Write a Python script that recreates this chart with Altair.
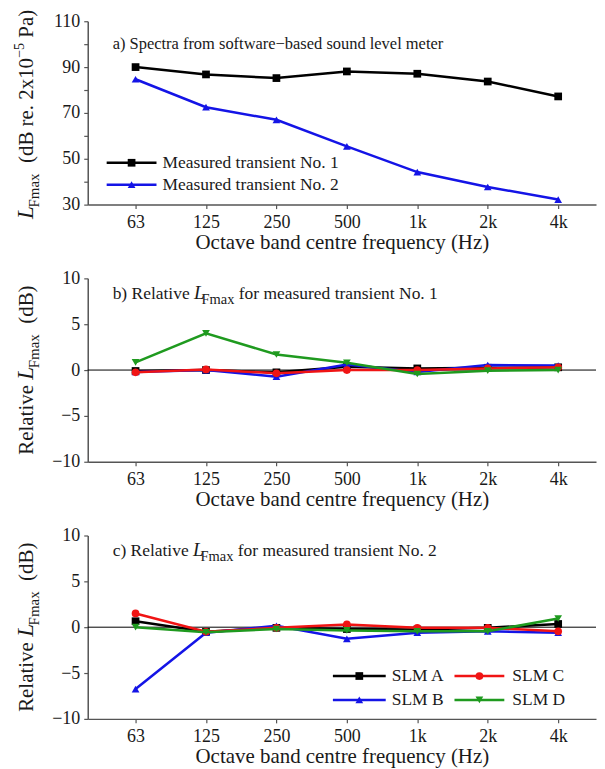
import json
import altair as alt
import pandas as pd

# ---------------- data ----------------
bands = ["63", "125", "250", "500", "1k", "2k", "4k"]

# panel a: L_Fmax spectra (dB)
transient1 = [90.0, 86.8, 85.2, 88.1, 87.1, 83.7, 77.2]
transient2 = [84.7, 72.5, 67.0, 55.4, 44.2, 37.7, 32.2]
spectra_names = ["Measured transient No. 1", "Measured transient No. 2"]

# panel b: relative L_Fmax, transient No. 1
slm_names = ["SLM A", "SLM B", "SLM C", "SLM D"]
b_A = [-0.1, 0.0, -0.25, 0.35, 0.18, 0.25, 0.3]
b_B = [-0.2, 0.0, -0.72, 0.6, -0.2, 0.55, 0.5]
b_C = [-0.25, 0.07, -0.36, 0.0, 0.0, 0.18, 0.3]
b_D = [0.83, 4.0, 1.7, 0.8, -0.43, -0.07, 0.0]

# panel c: relative L_Fmax, transient No. 2
c_A = [0.65, -0.5, -0.07, -0.2, -0.25, -0.07, 0.35]
c_B = [-6.75, -0.6, 0.15, -1.27, -0.6, -0.45, -0.6]
c_C = [1.5, -0.5, -0.07, 0.3, -0.07, -0.07, -0.45]
c_D = [0.0, -0.55, -0.2, -0.35, -0.45, -0.45, 0.95]

# ---------------- styling ----------------
FONT = "Liberation Serif"
TXT = "#1a1a1a"
AX = "#555555"
W_PLOT = 510
H_PLOT = 184
BLACK, BLUE, RED, GREEN = "#000000", "#1414e6", "#f01414", "#1f9a1f"


def long_df(names, series):
    rows = []
    for n, vals in zip(names, series):
        for i, v in enumerate(vals):
            rows.append({"i": i, "band": bands[i], "series": n, "v": v})
    return pd.DataFrame(rows)


df_a = long_df(spectra_names, [transient1, transient2])
df_b = long_df(slm_names, [b_A, b_B, b_C, b_D])
df_c = long_df(slm_names, [c_A, c_B, c_C, c_D])
one = pd.DataFrame({"k": [0]})

# Times / Liberation Serif advance widths (per 1000 em)
MET = {" ": 250, "a": 444, "b": 500, "c": 444, "d": 500, "e": 444, "f": 333, "g": 500,
       "h": 500, "i": 278, "j": 278, "k": 500, "l": 278, "m": 778, "n": 500, "o": 500,
       "p": 500, "q": 500, "r": 333, "s": 389, "t": 278, "u": 500, "v": 500, "w": 722,
       "x": 500, "y": 500, "z": 444, "A": 722, "B": 667, "C": 667, "D": 722, "F": 556,
       "L": 611, "M": 889, "N": 722, "P": 556, "R": 667, "S": 556, ".": 250, "(": 333,
       ")": 333, "−": 564, "-": 333}


def tw(s, size):
    return sum(MET.get(ch, 500) for ch in s) * size / 1000.0


def txt(t, x, y, size, angle=0, italic=False, baseline="alphabetic", align="left"):
    kw = dict(text=t, font=FONT, fontSize=size, color=TXT, align=align, baseline=baseline)
    if angle:
        kw["angle"] = angle
    if italic:
        kw["fontStyle"] = "italic"
    return alt.Chart(one).mark_text(**kw).encode(x=alt.value(x), y=alt.value(y))


def split_lead(t):
    stripped = t.lstrip(" ")
    return len(t) - len(stripped), stripped


def rotated_title(pieces, xb, center):
    # pieces: (text, size, italic, baseline shift in x, advance override)
    total = sum(p[4] if p[4] is not None else tw(p[0], p[1]) for p in pieces)
    y = center + total / 2.0
    layers = []
    for t, size, it, shift, adv in pieces:
        nlead, s = split_lead(t)
        lead = tw(" " * nlead, size)
        layers.append(txt(s, xb + shift, y - lead, size, angle=270, italic=it))
        y -= adv if adv is not None else tw(t, size)
    return layers


def horiz_title(pieces, x0, yb):
    layers = []
    x = x0
    for t, size, it, shift, adv in pieces:
        nlead, s = split_lead(t)
        lead = tw(" " * nlead, size)
        layers.append(txt(s, x + lead, yb + shift, size, italic=it))
        x += adv if adv is not None else tw(t, size)
    return layers


X = alt.X(
    "i:Q",
    scale=alt.Scale(domain=[-0.679, 6.537], nice=False, zero=False),
    axis=alt.Axis(
        values=list(range(7)),
        labelExpr=json.dumps(bands) + "[datum.value]",
        title="Octave band centre frequency (Hz)",
        labelPadding=5,
        titlePadding=0,
    ),
)


def data_layers(df, names, colors, shapes, ydomain, yvalues, labelexpr):
    Y = alt.Y(
        "v:Q",
        scale=alt.Scale(domain=ydomain, nice=False, zero=False),
        axis=alt.Axis(values=yvalues, labelExpr=labelexpr, title=None, labelPadding=4),
    )
    layers = []
    for n, c, s in zip(names, colors, shapes):
        sub = alt.Chart(df).transform_filter(alt.datum.series == n)
        layers.append(sub.mark_line(color=c, strokeWidth=2.5).encode(x=X, y=Y))
        layers.append(
            sub.mark_point(color=c, filled=True, opacity=1, shape=s, size=60, strokeWidth=0)
            .encode(x=X, y=Y)
        )
    return layers


def legend_row(x_line0, x_line1, x_text, y, color, shape, label):
    return [
        alt.Chart(one).mark_rule(color=color, strokeWidth=2.5)
        .encode(x=alt.value(x_line0), x2=alt.value(x_line1), y=alt.value(y)),
        alt.Chart(one).mark_point(color=color, filled=True, opacity=1, shape=shape, size=60, strokeWidth=0)
        .encode(x=alt.value((x_line0 + x_line1) / 2), y=alt.value(y)),
        txt(label, x_text, y, 17.5, baseline="middle"),
    ]


zero_rule = alt.Chart(one).mark_rule(color="black", strokeWidth=1).encode(y=alt.datum(0))

# ---------------- panel a ----------------
layers_a = data_layers(
    df_a, spectra_names, [BLACK, BLUE], ["square", "triangle-up"],
    [30, 110], list(range(30, 111, 10)),
    "(datum.value - 30) % 20 == 0 ? datum.label : ''",
)
layers_a += [txt("a) Spectra from software−based sound level meter", 25, 28, 16.5)]
layers_a += legend_row(19, 69, 75, 142, BLACK, "square", spectra_names[0])
layers_a += legend_row(19, 69, 75, 164, BLUE, "triangle-up", spectra_names[1])
layers_a += rotated_title(
    [("L", 23, True, 0, 11.5), ("Fmax", 15, False, 6, None),
     ("  (dB re. 2x10", 21, False, 0, None), ("−5", 14, False, -9, None),
     (" Pa)", 21, False, 0, None)],
    -55, H_PLOT / 2 + 1.5,
)
panel_a = alt.layer(*layers_a).properties(width=W_PLOT, height=H_PLOT)

# ---------------- panels b, c ----------------
slm_colors = [BLACK, BLUE, RED, GREEN]
slm_shapes = ["square", "triangle-up", "circle", "triangle-down"]


def rel_panel(df, letter, number, with_legend):
    ls = [zero_rule]
    ls += data_layers(df, slm_names, slm_colors, slm_shapes, [-10, 10], [-10, -5, 0, 5, 10], "datum.label")
    ls += horiz_title(
        [(f"{letter}) Relative ", 17.5, False, 0, None), ("L", 19, True, 0, 7.5),
         ("Fmax", 14.5, False, 5, None),
         (f" for measured transient No. {number}", 17.5, False, 0, None)],
        25, 21,
    )
    ls += rotated_title(
        [("Relative ", 21, False, 0, None), ("L", 23, True, 0, 11.5),
         ("Fmax", 15, False, 6, None), ("  (dB)", 21, False, 0, None)],
        -55, H_PLOT / 2,
    )
    if with_legend:
        ls += legend_row(246, 299, 305, 141, BLACK, "square", "SLM A")
        ls += legend_row(246, 299, 305, 165, BLUE, "triangle-up", "SLM B")
        ls += legend_row(368, 418, 426, 141, RED, "circle", "SLM C")
        ls += legend_row(368, 418, 426, 165, GREEN, "triangle-down", "SLM D")
    return alt.layer(*ls).properties(width=W_PLOT, height=H_PLOT)


panel_b = rel_panel(df_b, "b", 1, False)
panel_c = rel_panel(df_c, "c", 2, True)

chart = (
    alt.vconcat(panel_a, panel_b, panel_c, spacing=17)
    .properties(padding={"left": 5, "top": 0, "right": 0, "bottom": 0})
    .configure_view(stroke=None)
    .configure_axis(
        grid=False,
        domainColor=AX,
        domainWidth=1.5,
        tickColor=AX,
        tickWidth=1.2,
        tickSize=4,
        labelFont=FONT,
        labelFontSize=18,
        labelColor=TXT,
        titleFont=FONT,
        titleFontSize=21,
        titleFontWeight="normal",
        titleColor=TXT,
    )
)

chart.save("out.html", embed_options={"renderer": "svg", "actions": False})
